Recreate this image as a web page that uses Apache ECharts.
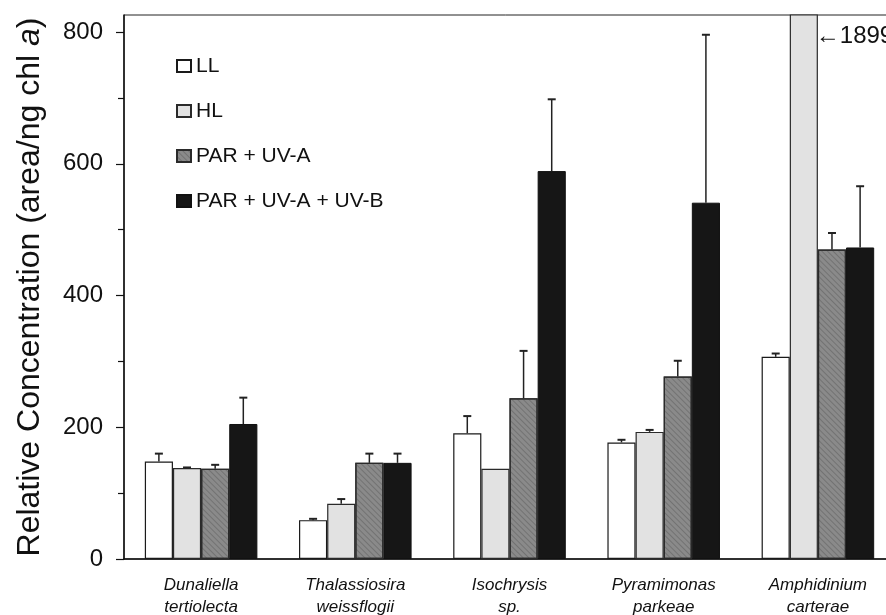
<!DOCTYPE html>
<html>
<head>
<meta charset="utf-8">
<script src="https://cdn.jsdelivr.net/npm/echarts@6/dist/echarts.min.js"></script>
<style>html,body{margin:0;padding:0;background:#fff;}#c{width:886px;height:615px;}</style>
</head>
<body>
<div id="c"></div>
<script>
const categories = ['Dunaliella\ntertiolecta', 'Thalassiosira\nweissflogii', 'Isochrysis\nsp.', 'Pyramimonas\nparkeae', 'Amphidinium\ncarterae'];
const seriesNames = ['LL', 'HL', 'PAR + UV-A', 'PAR + UV-A + UV-B'];
const valLL   = [148, 59, 191, 177, 307];
const valHL   = [138, 84, 137, 193, 1899];
const valUVA  = [137, 146, 244, 277, 470];
const valUVB  = [205, 146, 589, 541, 473];
const errLL   = [12, 2, 26, 4, 5];
const errHL   = [1, 7, 0, 3, 0];
const errUVA  = [6, 14, 72, 24, 25];
const errUVB  = [40, 14, 109, 255, 93];
const yTicks = [0, 200, 400, 600, 800];
const yMinorTicks = [100, 300, 500, 700];
const offscaleLabel = '\u2190' + valHL[4];
const offscaleY = 794;

const FONT = "'Liberation Sans', Arial, Helvetica, sans-serif";
const CATGAP = 27;
const values = [valLL, valHL, valUVA, valUVB];
const errors = [errLL, errHL, errUVA, errUVB];
const styles = [
  {color: '#ffffff', borderColor: '#1a1a1a', borderWidth: 1.2},
  {color: '#e2e2e2', borderColor: '#2a2a2a', borderWidth: 1.2},
  {color: '#8a8a8a', borderColor: '#2a2a2a', borderWidth: 1.2,
   decal: {symbol: 'rect', symbolSize: 1, dashArrayX: [[1, 0]], dashArrayY: [1, 3], rotation: Math.PI / 4, color: 'rgba(60,60,60,0.3)'}},
  {color: '#161616', borderColor: '#111111', borderWidth: 1}
];

const series = seriesNames.map((n, i) => ({
  name: n, type: 'bar', data: values[i], clip: true,
  barGap: '0%', barCategoryGap: CATGAP + '%',
  itemStyle: styles[i], emphasis: {disabled: true}
}));
series[1].markPoint = {
  symbol: 'rect', symbolSize: 0,
  data: [{coord: [4, offscaleY]}],
  label: {show: true, position: 'right', distance: 12, formatter: offscaleLabel, color: '#111', fontSize: 24, fontFamily: FONT}
};

const errData = [];
errors.forEach((arr, s) => arr.forEach((e, c) => { if (e > 0) errData.push([c, values[s][c], e, s]); }));
series.push({
  type: 'custom', name: 'err', data: errData, z: 5, silent: true,
  renderItem: function (params, api) {
    const c = api.value(0), v = api.value(1), e = api.value(2), s = api.value(3);
    const band = api.size([1, 0])[0];
    const bw = band * (1 - CATGAP / 100) / 4;
    const cx = api.coord([c, 0])[0] + (s - 1.5) * bw;
    const y0 = api.coord([c, v])[1];
    const y1 = api.coord([c, v + e])[1];
    const st = {stroke: '#222', lineWidth: 1.5};
    return {type: 'group', children: [
      {type: 'line', shape: {x1: cx, y1: y0, x2: cx, y2: y1}, style: st},
      {type: 'line', shape: {x1: cx - 4, y1: y1, x2: cx + 4, y2: y1}, style: {stroke: '#222', lineWidth: 2}}
    ]};
  }
});

const chart = echarts.init(document.getElementById('c'), null, {renderer: 'canvas'});
chart.setOption({
  animation: false,
  backgroundColor: '#fff',
  textStyle: {fontFamily: FONT},
  grid: {left: 124, top: 15, width: 771, bottom: 56, outerBoundsMode: 'none', containLabel: false,
         show: true, borderColor: '#222', borderWidth: 1, backgroundColor: 'transparent'},
  legend: {
    orient: 'vertical', left: 171, top: 49, itemGap: 21, itemWidth: 14, itemHeight: 12, icon: 'rect',
    data: seriesNames, selectedMode: false,
    textStyle: {fontSize: 21, color: '#111', lineHeight: 24, fontFamily: FONT}
  },
  xAxis: {
    type: 'category', data: categories,
    axisLine: {lineStyle: {color: '#111', width: 1.5}},
    axisTick: {show: false},
    axisLabel: {fontSize: 17, fontStyle: 'italic', color: '#111', lineHeight: 22, margin: 15, interval: 0, fontFamily: FONT}
  },
  yAxis: [{
    type: 'value', min: 0, max: 826,
    name: 'Relative Concentration (area/ng chl {i|a})',
    nameLocation: 'middle', nameGap: 78,
    nameTextStyle: {fontSize: 32, color: '#111', fontFamily: FONT, rich: {i: {fontSize: 32, fontStyle: 'italic', color: '#111', fontFamily: FONT}}},
    axisLine: {show: true, lineStyle: {color: '#111', width: 1.5}},
    axisTick: {show: true, length: 8, customValues: yTicks, lineStyle: {color: '#111', width: 1.2}},
    axisLabel: {fontSize: 24, color: '#111', margin: 21, customValues: yTicks, fontFamily: FONT},
    splitLine: {show: false}
  }, {
    type: 'value', min: 0, max: 826, position: 'left',
    axisLine: {show: false},
    axisTick: {show: true, length: 6, customValues: yMinorTicks, lineStyle: {color: '#111', width: 1.2}},
    axisLabel: {show: false},
    splitLine: {show: false}
  }],
  series: series
});
</script>
</body>
</html>
